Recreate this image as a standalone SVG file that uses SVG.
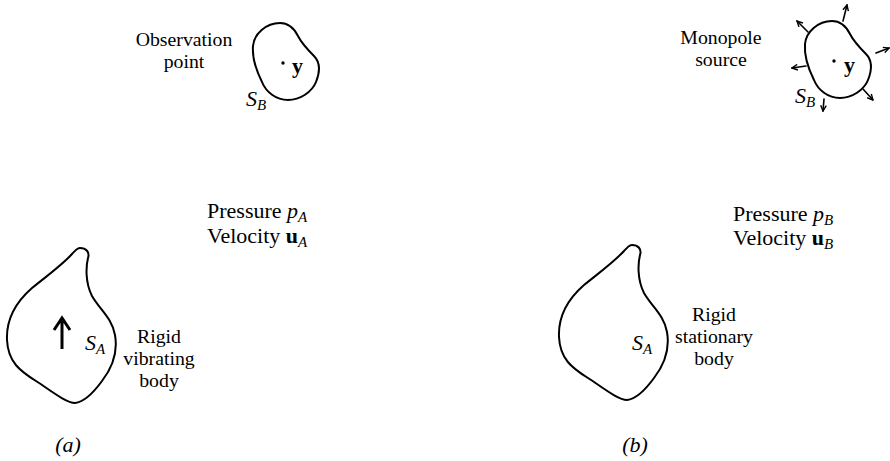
<svg xmlns="http://www.w3.org/2000/svg" width="890" height="461" viewBox="0 0 890 461">
<style>
  text { font-family: "Liberation Serif", "Times New Roman", serif; font-size: 22px; fill: #000; }
  .lbl { font-size: 19.8px; text-anchor: middle; }
  .mid { text-anchor: middle; }
  .it { font-style: italic; }
  .b { font-weight: bold; }
  .sub { font-size: 15px; font-style: italic; }
  .blob { fill: none; stroke: #000; stroke-width: 2; stroke-linejoin: round; }
  .arr { fill: none; stroke: #000; stroke-width: 1.6; stroke-linecap: round; marker-end: url(#head); }
</style>
<defs>
  <marker id="head" viewBox="0 0 10 10" refX="9" refY="5" markerWidth="7" markerHeight="7" markerUnits="userSpaceOnUse" orient="auto">
    <path d="M1,1 L9,5 L1,9" fill="none" stroke="#000" stroke-width="2" stroke-linejoin="miter"/>
  </marker>
  <path id="bigBody" d="M80,248 C86,248 90,252 88,258 C86,266 85,282 92,296 C100,310 112,318 115,335 C118,352 112,368 102,381 C94,392 84,402 75,403 C66,403 50,390 36,381 C20,371 8,362 7,340 C6,318 16,302 32,288 C48,275 62,265 72,254 C76,250 77,248 80,248 Z"/>
  <path id="smallBody" d="M280,23 C288,23 294,28 298,36 C302,44 308,50 314,56 C320,62 320,72 316,82 C312,92 300,100 288,100 C276,100 266,92 262,82 C256,70 252,58 253,46 C254,34 266,23 280,23 Z"/>
</defs>

<!-- Panel (a) -->
<g id="a-observation">
  <use href="#smallBody" class="blob"/>
  <circle cx="283" cy="63" r="1.7" fill="#000"/>
  <text x="292" y="73" class="b">y</text>
  <text x="246" y="106" class="it">S<tspan class="sub" dy="4">B</tspan></text>
  <text x="184" y="46" class="lbl">Observation</text>
  <text x="184" y="68" class="lbl">point</text>
</g>
<g id="a-field">
  <text x="207" y="218">Pressure <tspan class="it">p</tspan><tspan class="sub" dy="4">A</tspan></text>
  <text x="207" y="243">Velocity <tspan class="b">u</tspan><tspan class="sub" dy="4">A</tspan></text>
</g>
<g id="a-body">
  <use href="#bigBody" class="blob"/>
  <path d="M62,349 L62,319 M54,330 L62,318 L70,330" fill="none" stroke="#000" stroke-width="3" stroke-linejoin="miter"/>
  <text x="85" y="350" class="it">S<tspan class="sub" dy="4">A</tspan></text>
  <text x="159" y="343" class="lbl">Rigid</text>
  <text x="159" y="365" class="lbl">vibrating</text>
  <text x="159" y="387" class="lbl">body</text>
</g>
<text x="68" y="452" class="mid it">(a)</text>

<!-- Panel (b) -->
<g id="b-source">
  <use href="#smallBody" class="blob" transform="translate(552,-2)"/>
  <circle cx="834" cy="61" r="1.7" fill="#000"/>
  <text x="844" y="72" class="b">y</text>
  <text x="795" y="103" class="it">S<tspan class="sub" dy="4">B</tspan></text>
  <text x="721" y="44" class="lbl">Monopole</text>
  <text x="721" y="66" class="lbl">source</text>
</g>
<g id="connectors">
  <line class="arr" x1="843" y1="21" x2="847" y2="5"/>
  <line class="arr" x1="808" y1="32" x2="797" y2="21"/>
  <line class="arr" x1="876" y1="53" x2="889" y2="48"/>
  <line class="arr" x1="806" y1="66" x2="792" y2="68"/>
  <line class="arr" x1="863" y1="89" x2="873" y2="100"/>
  <line class="arr" x1="824" y1="99" x2="823" y2="111"/>
</g>
<g id="b-field">
  <text x="733" y="221">Pressure <tspan class="it">p</tspan><tspan class="sub" dy="4">B</tspan></text>
  <text x="733" y="245">Velocity <tspan class="b">u</tspan><tspan class="sub" dy="4">B</tspan></text>
</g>
<g id="b-body">
  <use href="#bigBody" class="blob" transform="translate(552,-3)"/>
  <text x="632" y="350" class="it">S<tspan class="sub" dy="4">A</tspan></text>
  <text x="714" y="321" class="lbl">Rigid</text>
  <text x="714" y="343" class="lbl">stationary</text>
  <text x="714" y="365" class="lbl">body</text>
</g>
<text x="635" y="452" class="mid it">(b)</text>
</svg>
